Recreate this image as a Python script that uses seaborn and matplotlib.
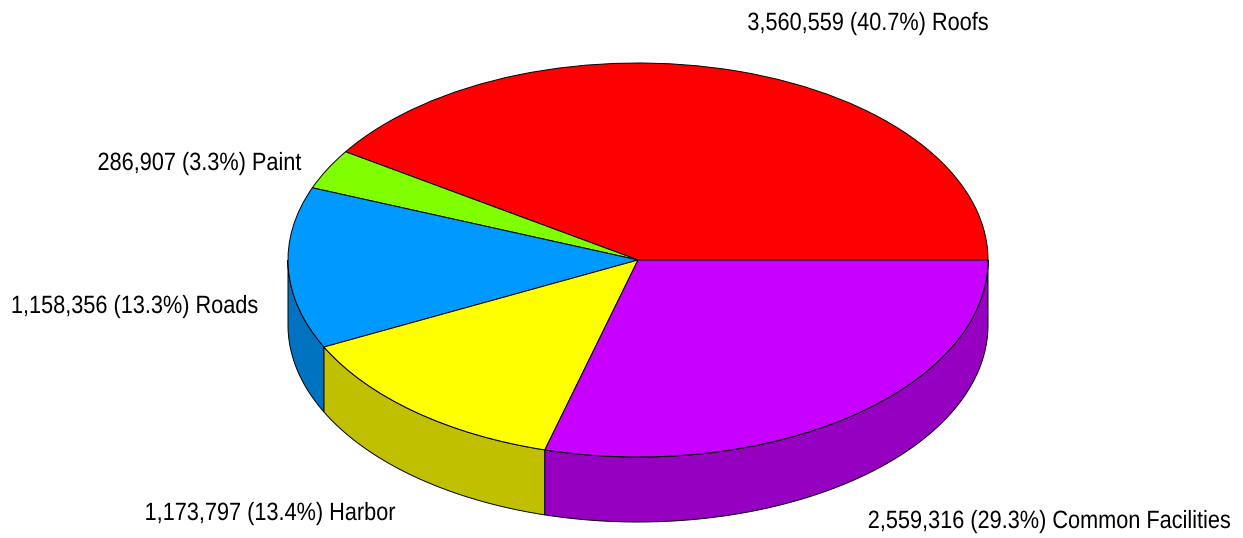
import numpy as np
import matplotlib
matplotlib.use("Agg")
import matplotlib.pyplot as plt
import matplotlib.patheffects as pe
from matplotlib.text import Text
from matplotlib.transforms import Affine2D, Bbox
import seaborn as sns

categories = ["Roofs", "Paint", "Roads", "Harbor", "Common Facilities"]
values = [3560559, 286907, 1158356, 1173797, 2559316]
percents = ["40.7", "3.3", "13.3", "13.4", "29.3"]
top_colors = ["#FF0000", "#80FF00", "#0099FF", "#FFFF00", "#C800FF"]
side_colors = ["#C00000", "#60C000", "#0073C0", "#C0C000", "#9600C0"]
label_pos = [(868, 23), (199.5, 163), (134.5, 306), (270, 513), (1049, 521)]

W, H = 1243, 538
CX, CY, RX, RY, DEPTH = 638, 260, 350, 197, 65
TEXT_SQUEEZE = 0.868


class Squeeze(pe.AbstractPathEffect):
    """Narrows a text's glyphs horizontally about its anchor."""

    def __init__(self, anchor_x, factor):
        super().__init__()
        self.anchor_x = anchor_x
        self.factor = factor

    def draw_path(self, renderer, gc, tpath, affine, rgbFace=None):
        squeeze = (Affine2D().translate(-self.anchor_x, 0)
                   .scale(self.factor, 1).translate(self.anchor_x, 0))
        renderer.draw_path(gc, tpath, affine + squeeze, rgbFace)


class CondensedText(Text):
    """Real text drawn narrower; its reported extent follows the drawn width."""

    def __init__(self, *args, factor=1.0, **kwargs):
        super().__init__(*args, **kwargs)
        self._factor = factor

    def get_window_extent(self, renderer=None, dpi=None):
        bb = super().get_window_extent(renderer, dpi)
        mid = 0.5 * (bb.x0 + bb.x1)
        half = 0.5 * bb.width * self._factor
        return Bbox([[mid - half, bb.y0], [mid + half, bb.y1]])


sns.set_theme(style="white")
plt.rcParams["font.family"] = ["Liberation Sans", "DejaVu Sans"]

fig = plt.figure(figsize=(W / 100, H / 100), dpi=100, facecolor="white")
ax = fig.add_axes([0, 0, 1, 1])

total = sum(values)
fractions = np.array(values) / total
edges = np.concatenate([[0], np.cumsum(fractions)]) * 2 * np.pi
d = DEPTH / RY

# Side wall of the disc: only the front half (lower half of the ellipse) shows
for a0, a1, col in zip(edges[:-1], edges[1:], side_colors):
    lo, hi = max(a0, np.pi), min(a1, 2 * np.pi)
    if hi <= lo:
        continue
    t = np.linspace(lo, hi, 200)
    xs = np.cos(t)
    ys = np.sin(t)
    px = np.concatenate([xs, xs[::-1]])
    py = np.concatenate([ys, ys[::-1] - d])
    ax.fill(px, py, facecolor=col, edgecolor="black", linewidth=0.7, zorder=1)

ax.pie(values, colors=top_colors, startangle=0, counterclock=True, radius=1,
       center=(0, 0), frame=True,
       wedgeprops=dict(edgecolor="black", linewidth=0.7, zorder=2))

ax.set_aspect("auto")
ax.set_xlim(-CX / RX, (W - CX) / RX)
ax.set_ylim(-(H - CY) / RY, CY / RY)
ax.axis("off")

for (name, v, p, pos) in zip(categories, values, percents, label_pos):
    x = (pos[0] - CX) / RX
    y = (CY - pos[1]) / RY
    label = CondensedText(x, y, f"{v:,} ({p}%) {name}", factor=TEXT_SQUEEZE,
                          ha="center", va="center", fontsize=18,
                          color="black", zorder=3)
    ax.add_artist(label)
    label.set_path_effects([Squeeze(float(pos[0]), TEXT_SQUEEZE)])

fig.savefig("out.png", dpi=100, facecolor="white")
